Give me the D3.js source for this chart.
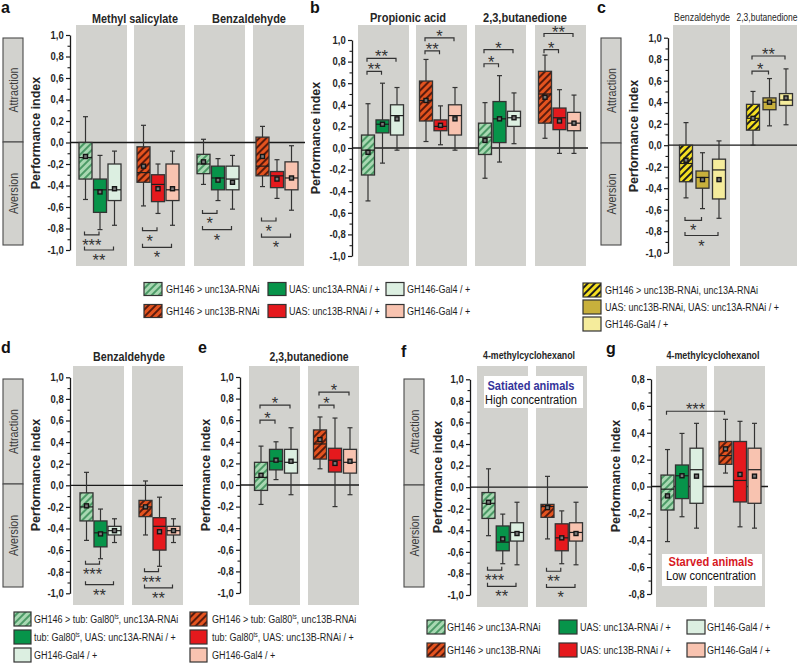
<!DOCTYPE html>
<html>
<head>
<meta charset="utf-8">
<script src="https://cdn.jsdelivr.net/npm/d3@7"></script>
<style>
  body { margin: 0; background: #fff; }
  svg { display: block; font-family: "Liberation Sans", Arial, sans-serif; }
</style>
</head>
<body>
<svg id="chart" width="799" height="666"></svg>
<script>
// ---------- data ----------
// every box: [whisker low, q1, median, q3, whisker high, mean]
const genotypes = ["RNAi", "UAS control", "Gal4 control"];

const yTicks  = [-1, -0.8, -0.6, -0.4, -0.2, 0, 0.2, 0.4, 0.6, 0.8, 1];
const yMinor  = [-0.9, -0.7, -0.5, -0.3, -0.1, 0.1, 0.3, 0.5, 0.7, 0.9];
const yTicksG = [-0.8, -0.6, -0.4, -0.2, 0, 0.2, 0.4, 0.6, 0.8];
const yMinorG = [-0.7, -0.5, -0.3, -0.1, 0.1, 0.3, 0.5, 0.7];

const odorsA = ["Methyl salicylate", "Benzaldehyde"];
const odorsB = ["Propionic acid", "2,3,butanedione"];
const odorsC = ["Benzaldehyde", "2,3,butanedione"];
const odorD = "Benzaldehyde";
const odorE = "2,3,butanedione";
const odorFG = "4-methylcyclohexanol";

const aMeSal13A = [[-0.53, -0.34, -0.14, 0.00, 0.24, -0.13], [-0.81, -0.65, -0.44, -0.34, -0.12, -0.46], [-0.77, -0.54, -0.44, -0.20, -0.08, -0.43]];
const aMeSal13B = [[-0.59, -0.37, -0.28, -0.04, 0.16, -0.22], [-0.66, -0.55, -0.39, -0.30, -0.20, -0.43], [-0.77, -0.54, -0.44, -0.20, -0.08, -0.43]];
const aBenz13A  = [[-0.39, -0.29, -0.20, -0.11, 0.03, -0.18], [-0.54, -0.44, -0.33, -0.22, -0.15, -0.35], [-0.62, -0.44, -0.34, -0.22, -0.12, -0.37]];
const aBenz13B  = [[-0.41, -0.31, -0.22, 0.05, 0.15, -0.13], [-0.52, -0.42, -0.31, -0.27, -0.16, -0.34], [-0.63, -0.44, -0.33, -0.18, -0.03, -0.33]];
const aSig = [[0, 0, 0, 1, -0.86, "***"], [0, 0, 0, 2, -1.0, "**"], [1, 0, 1, 1, -0.82, "*"], [1, 0, 1, 2, -0.975, "*"],
              [2, 0, 2, 1, -0.66, "*"], [2, 0, 2, 2, -0.81, "*"], [3, 0, 3, 1, -0.73, "*"], [3, 0, 3, 2, -0.88, "*"]];

const bProp13A = [[-0.49, -0.25, -0.02, 0.12, 0.41, -0.04], [-0.14, 0.14, 0.22, 0.26, 0.60, 0.22], [-0.02, 0.12, 0.30, 0.40, 0.56, 0.27]];
const bProp13B = [[0.06, 0.25, 0.44, 0.62, 0.82, 0.44], [0.03, 0.16, 0.20, 0.26, 0.39, 0.21], [-0.02, 0.12, 0.30, 0.40, 0.56, 0.27]];
const bBut13A  = [[-0.28, -0.06, 0.10, 0.23, 0.42, 0.07], [-0.13, 0.05, 0.27, 0.43, 0.67, 0.27], [0.04, 0.20, 0.28, 0.34, 0.51, 0.28]];
const bBut13B  = [[0.09, 0.23, 0.50, 0.71, 0.86, 0.47], [-0.05, 0.17, 0.28, 0.37, 0.54, 0.25], [-0.05, 0.16, 0.23, 0.33, 0.49, 0.23]];
const bSig = [[0, 0, 0, 1, 0.71, "**"], [0, 0, 0, 2, 0.83, "**"], [1, 0, 1, 1, 0.90, "**"], [1, 0, 1, 2, 1.02, "*"],
              [2, 0, 2, 1, 0.78, "*"], [2, 0, 2, 2, 0.91, "*"], [3, 0, 3, 1, 0.91, "*"], [3, 0, 3, 2, 1.06, "**"]];

const cBenzAB = [[-0.49, -0.34, -0.17, 0.00, 0.21, -0.14], [-0.59, -0.40, -0.30, -0.24, -0.07, -0.32], [-0.68, -0.50, -0.23, -0.13, 0.04, -0.32]];
const cButAB  = [[0.00, 0.14, 0.25, 0.38, 0.50, 0.25], [0.18, 0.33, 0.40, 0.44, 0.62, 0.40], [0.19, 0.37, 0.42, 0.48, 0.71, 0.44]];
const cSig = [[0, 0, 0, 1, -0.70, "*"], [0, 0, 0, 2, -0.84, "*"], [1, 0, 1, 1, 0.69, "*"], [1, 0, 1, 2, 0.83, "**"]];

const dBenz13A = [[-0.51, -0.33, -0.20, -0.07, 0.12, -0.19], [-0.68, -0.57, -0.44, -0.33, -0.22, -0.45], [-0.53, -0.46, -0.42, -0.38, -0.31, -0.42]];
const dBenz13B = [[-0.46, -0.29, -0.20, -0.14, 0.04, -0.20], [-0.75, -0.60, -0.38, -0.30, -0.11, -0.43], [-0.53, -0.46, -0.42, -0.38, -0.31, -0.42]];
const dSig = [[0, 0, 0, 1, -0.73, "***"], [0, 0, 0, 2, -0.92, "**"], [1, 0, 1, 1, -0.80, "***"], [1, 0, 1, 2, -0.95, "**"]];

const eBut13A = [[-0.18, -0.05, 0.07, 0.21, 0.36, 0.09], [0.05, 0.14, 0.22, 0.33, 0.40, 0.23], [-0.09, 0.11, 0.21, 0.33, 0.53, 0.22]];
const eBut13B = [[0.15, 0.24, 0.38, 0.51, 0.63, 0.42], [-0.20, 0.12, 0.23, 0.34, 0.62, 0.20], [-0.09, 0.11, 0.21, 0.33, 0.53, 0.22]];
const eSig = [[0, 0, 0, 1, 0.60, "*"], [0, 0, 0, 2, 0.74, "*"], [1, 0, 1, 1, 0.74, "*"], [1, 0, 1, 2, 0.86, "*"]];

const fMch13A = [[-0.45, -0.29, -0.15, -0.05, 0.17, -0.14], [-0.71, -0.59, -0.51, -0.36, -0.25, -0.48], [-0.72, -0.50, -0.42, -0.33, -0.14, -0.43]];
const fMch13B = [[-0.48, -0.28, -0.18, -0.16, 0.10, -0.19], [-0.71, -0.59, -0.47, -0.34, -0.22, -0.47], [-0.72, -0.50, -0.42, -0.33, -0.14, -0.43]];
const fSig = [[0, 0, 0, 1, -0.77, "***"], [0, 0, 0, 2, -0.92, "**"], [1, 0, 1, 1, -0.78, "**"], [1, 0, 1, 2, -0.93, "*"]];

const gMch13A = [[-0.41, -0.175, -0.02, 0.085, 0.275, -0.07], [-0.225, -0.09, 0.08, 0.16, 0.395, 0.08], [-0.31, -0.125, 0.125, 0.285, 0.47, 0.077]];
const gMch13B = [[0.10, 0.165, 0.23, 0.335, 0.50, 0.28], [-0.30, -0.115, 0.045, 0.335, 0.485, 0.09], [-0.31, -0.125, 0.125, 0.285, 0.47, 0.077]];
const gSig = [[0, 0, 1, 0, 0.56, "***"]];

const legend13A = ["GH146 > unc13A-RNAi", "UAS: unc13A-RNAi / +", "GH146-Gal4 / +"];
const legend13B = ["GH146 > unc13B-RNAi", "UAS: unc13B-RNAi / +", "GH146-Gal4 / +"];
const legendAB  = ["GH146 > unc13B-RNAi, unc13A-RNAi", "UAS: unc13B-RNAi, UAS: unc13A-RNAi / +", "GH146-Gal4 / +"];
const legendTs13A = ["GH146 > tub: Gal80{ts}, unc13A-RNAi", "tub: Gal80{ts}, UAS: unc13A-RNAi / +", "GH146-Gal4  / +"];
const legendTs13B = ["GH146 > tub: Gal80{ts}, unc13B-RNAi", "tub: Gal80{ts}, UAS: unc13B-RNAi / +", "GH146-Gal4 / +"];

// ---------- drawing ----------
const svg = d3.select("#chart");
const defs = svg.append("defs");
const ink = "#262626";
const bandFill = "#d2d2ce";

const palettes = {
  green:  { base: "#a8d8b2", stripe: "#4b9a66", solid: "#07944a", light: "#dcefe1" },
  red:    { base: "#e4531f", stripe: "#5a1b0d", solid: "#e5191d", light: "#f8c3b0" },
  yellow: { base: "#f4df22", stripe: "#1e1e1e", solid: "#c8b03c", light: "#f5ec9c" }
};
Object.entries(palettes).forEach(([k, p]) => {
  const pat = defs.append("pattern").attr("id", "hatch-" + k)
    .attr("patternUnits", "userSpaceOnUse").attr("width", 5).attr("height", 5)
    .attr("patternTransform", "rotate(45)");
  pat.append("rect").attr("width", 5).attr("height", 5).attr("fill", p.base);
  pat.append("rect").attr("width", 2).attr("height", 5).attr("fill", p.stripe);
});
const fillFor = (pal, i) => i === 0 ? `url(#hatch-${pal})` : (i === 1 ? palettes[pal].solid : palettes[pal].light);

// text helper: k squeezes horizontally (narrow font look), {..} = superscript
function txt(parent, x, y, str, o = {}) {
  let tr = `translate(${x},${y})`;
  if (o.rot) tr += ` rotate(${o.rot})`;
  if (o.k) tr += ` scale(${o.k},1)`;
  const size = o.size || 11;
  const t = parent.append("text").attr("transform", tr)
    .attr("text-anchor", o.anchor || "start")
    .attr("font-size", size)
    .attr("font-weight", o.weight || "normal")
    .attr("fill", o.fill || ink);
  str.split(/\{(.*?)\}/).forEach((part, i) => {
    if (!part) return;
    if (i % 2) t.append("tspan").attr("font-size", size * 0.6).attr("dy", -4).text(part);
    else t.append("tspan").attr("dy", i ? 4 : 0).text(part);
  });
  if (o.w) t.attr("textLength", o.w).attr("lengthAdjust", "spacingAndGlyphs");
  return t;
}

const fmt = v => d3.format(".1f")(v).replace(".", ",").replace("\u2212", "-");

function drawPanel(p) {
  const g = svg.append("g");
  const y = d3.scaleLinear().domain(p.domain).range(p.range);
  const xs = p.bands.map(b => d3.scalePoint().domain(genotypes).range([b.x0 + p.inset[0], b.x0 + p.inset[1]]));

  g.selectAll("rect.band").data(p.bands).join("rect").attr("class", "band")
    .attr("x", b => b.x0).attr("y", p.bandY[0])
    .attr("width", p.bandW).attr("height", p.bandY[1] - p.bandY[0])
    .attr("fill", bandFill);

  if (p.note) {
    const n = p.note;
    g.append("rect").attr("x", n.box[0]).attr("y", n.box[1]).attr("width", n.box[2]).attr("height", n.box[3]).attr("fill", "#fff");
    txt(g, n.cx, n.y1, n.lines[0], { anchor: "middle", size: 12, weight: "bold", fill: n.color, w: n.w1 });
    txt(g, n.cx, n.y2, n.lines[1], { anchor: "middle", size: 12, fill: "#111", w: n.w2 });
  }

  g.append("line").attr("x1", p.axisX).attr("x2", p.zeroEnd)
    .attr("y1", y(0)).attr("y2", y(0)).attr("stroke", "#1a1a1a").attr("stroke-width", 1.3);

  p.bands.forEach((b, bi) => {
    b.data.forEach((d, i) => {
      const cx = xs[bi](genotypes[i]);
      const [lo, q1, med, q3, hi, mean] = d;
      const bx = g.append("g").attr("stroke", "#333").attr("stroke-width", 1.2);
      bx.append("line").attr("x1", cx).attr("x2", cx).attr("y1", y(hi)).attr("y2", y(lo));
      bx.append("line").attr("x1", cx - 2.5).attr("x2", cx + 2.5).attr("y1", y(hi)).attr("y2", y(hi));
      bx.append("line").attr("x1", cx - 2.5).attr("x2", cx + 2.5).attr("y1", y(lo)).attr("y2", y(lo));
      bx.append("rect").attr("x", cx - 6.5).attr("y", y(q3)).attr("width", 13)
        .attr("height", y(q1) - y(q3)).attr("fill", fillFor(b.pal, i)).attr("stroke-width", 1.3);
      bx.append("line").attr("x1", cx - 6.5).attr("x2", cx + 6.5).attr("y1", y(med)).attr("y2", y(med)).attr("stroke", "#1e1e1e");
      bx.append("rect").attr("x", cx - 2).attr("y", y(mean) - 2).attr("width", 4).attr("height", 4)
        .attr("fill", "#7a7a7a").attr("stroke", "#141414").attr("stroke-width", 1.4);
    });
  });

  // y axis
  const ax = g.append("g").attr("transform", `translate(${p.axisX},0)`)
    .call(d3.axisLeft(y).tickValues(p.ticks).tickFormat(fmt).tickSize(4).tickSizeOuter(0).tickPadding(3));
  ax.attr("font-family", null).attr("font-size", null);
  ax.select(".domain").attr("stroke", "#1a1a1a").attr("stroke-width", 1.3);
  ax.selectAll(".tick line").attr("stroke", "#1a1a1a").attr("stroke-width", 1.2);
  ax.selectAll(".tick text").attr("font-size", 10.5).attr("font-weight", "bold").attr("fill", ink)
    .attr("transform", "scale(0.9,1)");
  const mn = g.append("g").attr("transform", `translate(${p.axisX},0)`)
    .call(d3.axisLeft(y).tickValues(p.minor).tickFormat("").tickSize(2.5).tickSizeOuter(0));
  mn.select(".domain").remove();
  mn.selectAll(".tick line").attr("stroke", "#1a1a1a").attr("stroke-width", 1.1);

  // significance brackets
  p.sigs.forEach(([ba, ia, bb, ib, lev, stars]) => {
    const x1 = xs[ba](genotypes[ia]) - 1, x2 = xs[bb](genotypes[ib]) - 1, yy = y(lev);
    const off = lev < 0 ? -3.5 : 3.5;
    g.append("path").attr("d", `M${x1},${yy + off}V${yy}H${x2}V${yy + off}`)
      .attr("fill", "none").attr("stroke", "#333").attr("stroke-width", 1.2);
    txt(g, (x1 + x2) / 2, lev < 0 ? yy + 16 : yy + 4, stars, { anchor: "middle", size: 16.5, fill: "#333" });
  });

  // titles, labels
  p.titles.forEach(t => txt(g, t.x, t.y, t.t, { anchor: "middle", size: t.size || 12, weight: t.weight || "bold", w: t.w }));
  txt(g, p.letter[1], p.letter[2], p.letter[0], { size: 16, weight: "bold", fill: "#111" });
  txt(g, p.pi[0], p.pi[1], "Performance index", { anchor: "middle", size: 12.5, weight: "bold", rot: -90 });

  if (p.valence) {
    const [vx, y0, y1, y2] = p.valence;
    [[y0, y1, "Attraction"], [y1, y2, "Aversion"]].forEach(([a, b, s]) => {
      g.append("rect").attr("x", vx).attr("y", a).attr("width", 20).attr("height", b - a)
        .attr("fill", bandFill).attr("stroke", "#4a4a4a").attr("stroke-width", 1.1);
      txt(g, vx + 14.5, (a + b) / 2, s, { anchor: "middle", size: 13, rot: -90, k: 0.82, fill: "#3a3a3a" });
    });
  }
}

const panels = [
  { letter: ["a", 1, 13], axisX: 70, domain: [-1, 1], range: [250, 35], ticks: yTicks, minor: yMinor,
    bandY: [25, 266], bandW: 51, inset: [9.5, 38.5], zeroEnd: 305, pi: [40, 133], valence: [3, 38, 142, 245],
    bands: [{ x0: 76, pal: "green", data: aMeSal13A }, { x0: 134, pal: "red", data: aMeSal13B },
            { x0: 194, pal: "green", data: aBenz13A }, { x0: 253, pal: "red", data: aBenz13B }],
    sigs: aSig,
    titles: [{ t: odorsA[0], x: 135, y: 23, w: 86 }, { t: odorsA[1], x: 249, y: 23, w: 74 }] },
  { letter: ["b", 310, 13], axisX: 352, domain: [-1, 1], range: [256, 40], ticks: yTicks, minor: yMinor,
    bandY: [25, 266], bandW: 51, inset: [10, 39], zeroEnd: 588, pi: [320, 138],
    bands: [{ x0: 358, pal: "green", data: bProp13A }, { x0: 416, pal: "red", data: bProp13B },
            { x0: 475, pal: "green", data: bBut13A }, { x0: 535, pal: "red", data: bBut13B }],
    sigs: bSig,
    titles: [{ t: odorsB[0], x: 408, y: 22, w: 76 }, { t: odorsB[1], x: 525, y: 22, w: 84 }] },
  { letter: ["c", 597, 13], axisX: 668, domain: [-1, 1], range: [252.7, 37.7], ticks: yTicks, minor: yMinor,
    bandY: [25, 266], bandW: 57, inset: [13, 46], zeroEnd: 797, pi: [638, 136], valence: [601, 38, 143, 245],
    bands: [{ x0: 673, pal: "yellow", data: cBenzAB }, { x0: 740, pal: "yellow", data: cButAB }],
    sigs: cSig,
    titles: [{ t: odorsC[0], x: 702, y: 21, w: 56, size: 11, weight: "normal" },
             { t: odorsC[1], x: 767, y: 21, w: 61, size: 11, weight: "normal" }] },
  { letter: ["d", 1, 353], axisX: 70, domain: [-1, 1], range: [593.3, 377.3], ticks: yTicks, minor: yMinor,
    bandY: [366, 605], bandW: 51, inset: [13.5, 41.5], zeroEnd: 183, pi: [40, 475], valence: [3, 379, 484, 587],
    bands: [{ x0: 73, pal: "green", data: dBenz13A }, { x0: 132, pal: "red", data: dBenz13B }],
    sigs: dSig,
    titles: [{ t: odorD, x: 129, y: 361, w: 72 }] },
  { letter: ["e", 198, 353], axisX: 240, domain: [-1, 1], range: [593, 377], ticks: yTicks, minor: yMinor,
    bandY: [366, 605], bandW: 51, inset: [12, 42], zeroEnd: 359, pi: [210, 475],
    bands: [{ x0: 249, pal: "green", data: eBut13A }, { x0: 308, pal: "red", data: eBut13B }],
    sigs: eSig,
    titles: [{ t: odorE, x: 309, y: 361, w: 79 }] },
  { letter: ["f", 401, 357], axisX: 470, domain: [-1, 1], range: [595, 379.3], ticks: yTicks, minor: yMinor,
    bandY: [366, 607], bandW: 51, inset: [11.5, 40], zeroEnd: 588, pi: [442, 477], valence: [404, 379, 485, 587],
    bands: [{ x0: 477, pal: "green", data: fMch13A }, { x0: 536, pal: "red", data: fMch13B }],
    sigs: fSig,
    titles: [{ t: odorFG, x: 529, y: 359, w: 92, size: 11 }],
    note: { box: [484, 376, 99, 32], cx: 531, y1: 390, y2: 404, w1: 87, w2: 92, color: "#34349a",
            lines: ["Satiated animals", "High concentration"] } },
  { letter: ["g", 606, 354], axisX: 651, domain: [-0.8, 0.8], range: [594, 379], ticks: yTicksG, minor: yMinorG,
    bandY: [366, 607], bandW: 51, inset: [11.5, 40.5], zeroEnd: 768, pi: [620, 476],
    bands: [{ x0: 656, pal: "green", data: gMch13A }, { x0: 714, pal: "red", data: gMch13B }],
    sigs: gSig,
    titles: [{ t: odorFG, x: 713, y: 359, w: 93, size: 11 }],
    note: { box: [662, 554, 100, 32], cx: 711, y1: 566, y2: 580, w1: 85, w2: 90, color: "#d7191f",
            lines: ["Starved animals", "Low concentration"] } }
];
panels.forEach(drawPanel);

// ---------- legends ----------
function legendRow(pal, labels, swX, txX, yc, sw) {
  labels.forEach((lab, i) => {
    svg.append("rect").attr("x", swX[i]).attr("y", yc - sw[1] / 2).attr("width", sw[0]).attr("height", sw[1])
      .attr("fill", fillFor(pal, i)).attr("stroke", "#333").attr("stroke-width", 1.2);
    txt(svg, txX[i], yc + 4, lab, { size: 11, k: 0.82, fill: "#1e1e1e" });
  });
}
function legendCol(pal, labels, swX, txX, ys, sw) {
  labels.forEach((lab, i) => {
    svg.append("rect").attr("x", swX).attr("y", ys[i] - sw[1] / 2).attr("width", sw[0]).attr("height", sw[1])
      .attr("fill", fillFor(pal, i)).attr("stroke", "#333").attr("stroke-width", 1.2);
    txt(svg, txX, ys[i] + 4, lab, { size: 11, k: 0.82, fill: "#1e1e1e" });
  });
}

legendRow("green", legend13A, [144, 268, 386], [166, 289, 407], 289, [18, 13]);
legendRow("red", legend13B, [144, 268, 386], [166, 289, 407], 311, [18, 13]);
legendCol("yellow", legendAB, 583, 605, [290, 307, 324], [18, 14]);
legendCol("green", legendTs13A, 14, 34, [619, 637, 655], [17, 14]);
legendCol("red", legendTs13B, 190, 212, [619, 637, 655], [17, 14]);
legendRow("green", legend13A, [427, 559, 687], [447, 580, 707], 627, [18, 14]);
legendRow("red", legend13B, [427, 559, 687], [447, 580, 707], 650, [18, 14]);
</script>
</body>
</html>
